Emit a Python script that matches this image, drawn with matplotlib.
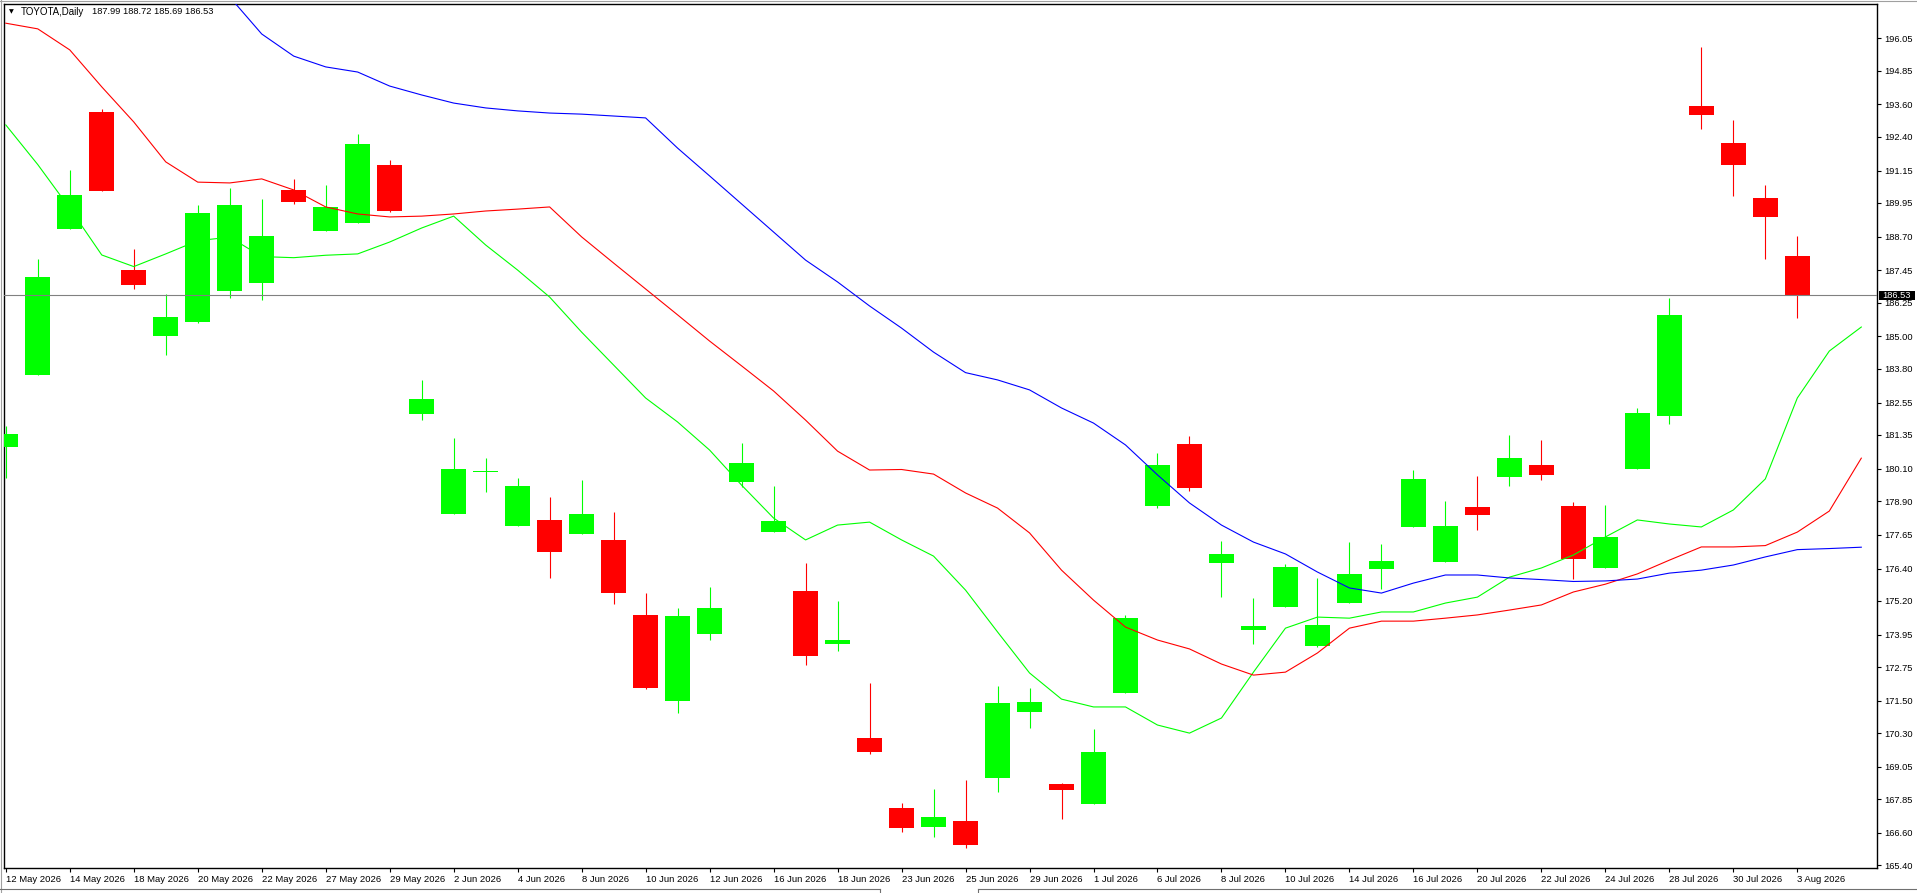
import matplotlib
matplotlib.use('Agg')
import numpy as np
import matplotlib.pyplot as plt
from matplotlib.lines import Line2D
from matplotlib.patches import Rectangle
import matplotlib.transforms as mtrans

# daily bars, TOYOTA
dates = ['12 May 2026', '13 May 2026', '14 May 2026', '15 May 2026', '18 May 2026',
         '19 May 2026', '20 May 2026', '21 May 2026', '22 May 2026', '26 May 2026',
         '27 May 2026', '28 May 2026', '29 May 2026', '1 Jun 2026', '2 Jun 2026',
         '3 Jun 2026', '4 Jun 2026', '5 Jun 2026', '8 Jun 2026', '9 Jun 2026',
         '10 Jun 2026', '11 Jun 2026', '12 Jun 2026', '15 Jun 2026', '16 Jun 2026',
         '17 Jun 2026', '18 Jun 2026', '22 Jun 2026', '23 Jun 2026', '24 Jun 2026',
         '25 Jun 2026', '26 Jun 2026', '29 Jun 2026', '30 Jun 2026', '1 Jul 2026',
         '2 Jul 2026', '6 Jul 2026', '7 Jul 2026', '8 Jul 2026', '9 Jul 2026',
         '10 Jul 2026', '13 Jul 2026', '14 Jul 2026', '15 Jul 2026', '16 Jul 2026',
         '17 Jul 2026', '20 Jul 2026', '21 Jul 2026', '22 Jul 2026', '23 Jul 2026',
         '24 Jul 2026', '27 Jul 2026', '28 Jul 2026', '29 Jul 2026', '30 Jul 2026',
         '31 Jul 2026', '3 Aug 2026']

opens = [180.90, 183.58, 188.99, 193.32, 187.46, 185.03, 185.55, 186.70, 186.99, 190.43,
         188.92, 189.22, 191.35, 182.14, 178.43, 179.97, 177.99, 178.20, 177.69, 177.46,
         174.68, 171.50, 173.98, 179.62, 177.76, 175.57, 173.61, 170.12, 167.52, 166.83,
         167.04, 168.65, 171.09, 168.41, 167.68, 171.80, 178.73, 181.01, 176.62, 174.13,
         174.98, 173.54, 175.13, 176.39, 177.95, 176.65, 178.68, 179.80, 180.24, 178.72,
         176.43, 180.10, 182.06, 193.54, 192.17, 190.13, 187.99]
highs = [181.68, 187.87, 191.17, 193.43, 188.24, 186.57, 189.87, 190.49, 190.09, 190.84,
         190.61, 192.50, 191.54, 183.39, 181.24, 180.50, 179.75, 179.05, 179.68, 178.49,
         175.49, 174.94, 175.72, 181.05, 179.46, 176.60, 175.20, 172.16, 167.71, 168.23,
         168.56, 172.05, 171.99, 168.45, 170.45, 174.68, 180.68, 181.31, 177.42, 175.31,
         176.57, 176.05, 177.38, 177.31, 180.05, 178.90, 179.83, 181.35, 181.16, 178.87,
         178.75, 182.35, 186.43, 195.73, 193.02, 190.61, 188.72]
lows = [179.75, 183.58, 188.99, 190.40, 186.77, 184.32, 185.51, 186.44, 186.36, 189.92,
        188.92, 189.22, 189.61, 181.92, 178.43, 179.25, 177.99, 176.06, 177.69, 175.10,
        171.95, 171.06, 173.76, 179.41, 177.76, 172.84, 173.35, 169.54, 166.64, 166.45,
        166.05, 168.13, 170.50, 167.13, 167.68, 171.80, 178.65, 179.28, 175.36, 173.59,
        174.98, 173.50, 175.13, 175.65, 177.95, 176.65, 177.84, 179.47, 179.69, 176.02,
        176.43, 180.10, 181.76, 192.70, 190.22, 187.88, 185.69]
closes = [181.38, 187.20, 190.24, 190.40, 186.92, 185.72, 189.58, 189.87, 188.72, 189.99,
          189.80, 192.13, 189.65, 182.68, 180.09, 179.97, 179.46, 177.02, 178.42, 175.50,
          171.98, 174.64, 174.94, 180.31, 178.16, 173.17, 173.75, 169.61, 166.79, 167.19,
          166.16, 171.42, 171.45, 168.20, 169.60, 174.57, 180.24, 179.40, 176.94, 174.27,
          176.46, 174.31, 176.20, 176.68, 179.72, 177.98, 178.39, 180.50, 179.88, 176.76,
          177.57, 182.16, 185.80, 193.22, 191.37, 189.44, 186.53]

# alligator lines, they run 2 bars past the last candle
lips = [192.84, 191.37, 189.75, 188.02, 187.59, 188.06, 188.55, 188.68, 187.96, 187.92,
        188.01, 188.06, 188.50, 189.02, 189.46, 188.39, 187.46, 186.46, 185.16, 183.94,
        182.72, 181.83, 180.79, 179.49, 178.27, 177.46, 178.01, 178.12, 177.46, 176.86,
        175.60, 174.05, 172.53, 171.56, 171.27, 171.27, 170.60, 170.30, 170.86, 172.56,
        174.19, 174.60, 174.56, 174.79, 174.79, 175.12, 175.34, 176.08, 176.42, 176.90,
        177.57, 178.20, 178.05, 177.94, 178.57, 179.72, 182.72, 184.46, 185.35]
teeth = [196.61, 196.40, 195.62, 194.25, 192.95, 191.47, 190.72, 190.69, 190.84, 190.43,
         189.80, 189.54, 189.43, 189.46, 189.54, 189.65, 189.72, 189.80, 188.69, 187.72,
         186.76, 185.80, 184.83, 183.91, 182.98, 181.90, 180.75, 180.05, 180.07, 179.90,
         179.20, 178.64, 177.72, 176.34, 175.23, 174.23, 173.75, 173.42, 172.86, 172.45,
         172.56, 173.27, 174.19, 174.45, 174.45, 174.56, 174.68, 174.86, 175.05, 175.53,
         175.82, 176.20, 176.71, 177.20, 177.20, 177.25, 177.75, 178.53, 180.49]
jaw_start = 6
jaw = [198.95, 197.58, 196.21, 195.39, 194.99, 194.80, 194.28, 193.95, 193.65, 193.47,
       193.36, 193.28, 193.24, 193.17, 193.10, 191.98, 190.95, 189.91, 188.87, 187.83,
       187.02, 186.13, 185.31, 184.42, 183.66, 183.39, 183.02, 182.35, 181.79, 180.98,
       179.87, 178.83, 178.01, 177.38, 176.94, 176.27, 175.68, 175.49, 175.86, 176.16,
       176.16, 176.05, 175.99, 175.92, 175.94, 176.01, 176.23, 176.34, 176.53, 176.83,
       177.10, 177.14, 177.19]

ytick_vals = [196.05, 194.85, 193.60, 192.40, 191.15, 189.95, 188.70, 187.45, 186.25,
              185.00, 183.80, 182.55, 181.35, 180.10, 178.90, 177.65, 176.40, 175.20,
              173.95, 172.75, 171.50, 170.30, 169.05, 167.85, 166.60, 165.40]

header = 'TOYOTA,Daily'
last_price = 186.53

W, H = 1917, 893
plt.rcParams['font.family'] = ['Liberation Sans', 'DejaVu Sans']

fig = plt.figure(figsize=(W / 100, H / 100), dpi=100)
fig.patch.set_facecolor('white')
ax = fig.add_axes([4 / W, (H - 868.3) / H, (1877.3 - 4) / W, (868.3 - 3.5) / H])

x = np.arange(len(opens))
o = np.array(opens); c = np.array(closes)
up = c >= o
col = np.where(up, '#00ff00', '#ff0000')

# wicks then bodies
ax.vlines(x, lows, highs, colors=col, linewidth=0.8, zorder=2)
body_lo = np.minimum(o, c)
body_h = np.maximum(np.abs(c - o), 0.04)
ax.bar(x, body_h, bottom=body_lo, width=0.78, color=col, linewidth=0, zorder=3)

# bid line
ax.axhline(last_price, color='#808080', linewidth=0.8, zorder=4)

# alligator
ax.plot(np.arange(len(lips)), lips, color='#00ff00', linewidth=0.8, zorder=5)
ax.plot(np.arange(len(teeth)), teeth, color='#ff0000', linewidth=0.8, zorder=5)
ax.plot(np.arange(jaw_start, jaw_start + len(jaw)), jaw, color='#0000ff', linewidth=0.8, zorder=5)

ax.set_xlim(-0.056, 58.5)
ax.set_ylim(165.29, 197.34)

for s in ax.spines.values():
    s.set_color('black')
    s.set_linewidth(1.0)

# x axis labels every second bar
ax.set_xticks(x[::2])
ax.set_xticklabels(dates[::2], fontsize=6.8)
for lab in ax.get_xticklabels():
    lab.set_horizontalalignment('left')
ax.tick_params(axis='x', length=3, width=0.8, pad=2, color='black')

ax.yaxis.tick_right()
ax.set_yticks(ytick_vals)
ax.set_yticklabels(['%.2f' % v for v in ytick_vals], fontsize=6.7)
ax.tick_params(axis='y', length=3, width=0.8, pad=2, color='black')

# price tag on the right scale
tr = mtrans.blended_transform_factory(fig.transFigure, ax.transData)
ax.add_patch(Rectangle((1879 / W, last_price - 0.17), 36 / W, 0.34, transform=tr,
                       facecolor='black', edgecolor='none', clip_on=False, zorder=10))
ax.text(1882.5 / W, last_price, '%.2f' % last_price, transform=tr, color='white',
        fontsize=6.7, va='center', ha='left', zorder=11, clip_on=False)

# header
fig.text(9 / W, 1 - 12 / H, '\u25bc', fontsize=4.5, va='center', ha='left',
         family=['DejaVu Sans'])
fig.text(20.5 / W, 1 - 12 / H, header, fontsize=7.0, va='center', ha='left')
fig.text(92 / W, 1 - 12 / H, '%.2f %.2f %.2f %.2f' % (opens[-1], highs[-1], lows[-1], closes[-1]),
         fontsize=6.7, va='center', ha='left')

# window frame bits
def fline(xs, ys, color='#a0a0a0', lw=0.8):
    fig.add_artist(Line2D([v / W for v in xs], [1 - v / H for v in ys],
                          transform=fig.transFigure, color=color, linewidth=lw))

fline([0, W], [0.5, 0.5])
fline([0.5, 0.5], [0, 893])
fline([0, 880], [889, 889], color='#707070')
fline([978, W], [889, 889], color='#707070')
fline([880, 880], [889, 893], color='#707070')
fline([978, 978], [889, 893], color='#707070')

fig.savefig('out.png', dpi=100)
